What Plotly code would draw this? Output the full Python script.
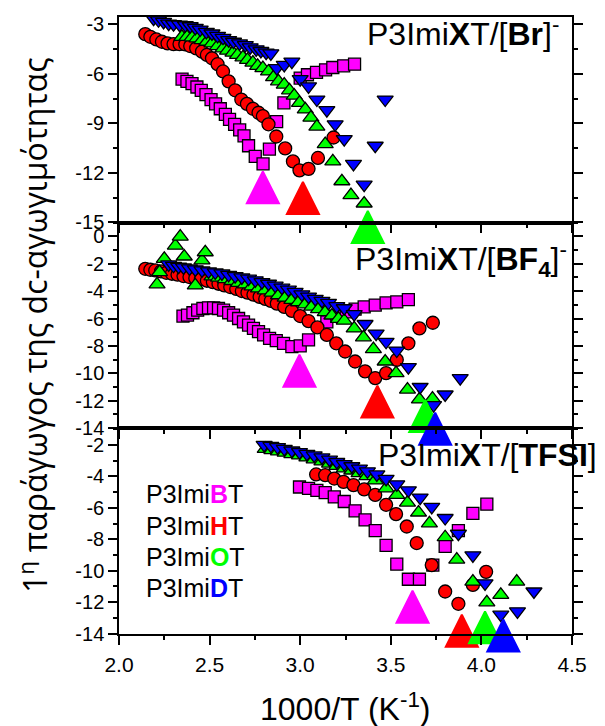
import plotly.graph_objects as go
from plotly.subplots import make_subplots

# ---------------- data: panel 1  P3ImiXT/[Br]- ----------------
br_B_x = [2.348, 2.375, 2.403, 2.43, 2.454, 2.48, 2.508, 2.533, 2.559, 2.587, 2.61, 2.638, 2.666, 2.69, 2.715, 2.752, 2.795,
          2.83, 2.87, 2.91, 3.0, 3.04, 3.09, 3.14, 3.18, 3.24, 3.30]
br_B_y = [-6.32, -6.46, -6.6, -6.8, -7.0, -7.26, -7.56, -7.82, -8.12, -8.46, -8.76, -9.06, -9.4, -9.76, -10.36, -11.0, -11.46,
          -10.56, -8.9, -7.76, -6.26, -6.06, -5.92, -5.76, -5.62, -5.52, -5.42]
br_H_x = [2.145, 2.173, 2.206, 2.237, 2.268, 2.301, 2.334, 2.366, 2.393, 2.426, 2.458, 2.485, 2.513, 2.544, 2.574, 2.605,
          2.641, 2.675, 2.706, 2.739, 2.77, 2.794, 2.825, 2.868, 2.917, 2.96, 2.996, 3.046, 3.098, 3.184]
br_H_y = [-3.6, -3.76, -3.92, -4.06, -4.16, -4.2, -4.2, -4.22, -4.32, -4.46, -4.66, -4.86, -5.06, -5.42, -5.86, -6.46,
          -7.0, -7.56, -7.82, -8.12, -8.36, -8.56, -9.06, -9.8, -10.52, -11.31, -11.85, -11.76, -11.1, -9.86]
br_O_x = [2.347, 2.375, 2.403, 2.43, 2.458, 2.485, 2.513, 2.544, 2.574, 2.599, 2.629, 2.654, 2.684, 2.709, 2.739, 2.765,
          2.794, 2.825, 2.853, 2.88, 2.912, 2.941, 2.967, 2.996, 3.028, 3.059, 3.092, 3.138, 3.18, 3.23, 3.28, 3.353]
br_O_y = [-3.76, -3.76, -3.8, -3.86, -3.96, -4.06, -4.16, -4.32, -4.46, -4.6, -4.72, -4.86, -5.0, -5.16, -5.32, -5.52,
          -5.66, -5.86, -6.2, -6.46, -6.66, -7.0, -7.32, -7.76, -8.16, -8.66, -9.2, -10.26, -11.31, -12.51, -13.35, -13.86]
br_D_x = [2.191, 2.218, 2.246, 2.274, 2.301, 2.334, 2.366, 2.393, 2.421, 2.448, 2.482, 2.513, 2.544, 2.574, 2.605, 2.632,
          2.665, 2.697, 2.724, 2.757, 2.783, 2.812, 2.838, 2.871, 2.912, 2.954, 3.0, 3.046, 3.092, 3.147, 3.193, 3.243,
          3.294, 3.353, 3.469, 3.414]
br_D_y = [-2.66, -2.76, -2.86, -2.96, -3.0, -3.02, -3.06, -3.12, -3.22, -3.32, -3.46, -3.56, -3.7, -3.82, -3.96, -4.06,
          -4.16, -4.26, -4.4, -4.52, -4.62, -4.72, -4.76, -5.66, -5.46, -5.26, -6.32, -6.76, -7.56, -8.2, -9.06, -9.96,
          -11.46, -12.72, -7.56, -10.36]
br_mark_x = [2.794, 3.015, 3.373]
br_mark_y = [-11.91, -12.56, -14.31]

# ---------------- data: panel 2  P3ImiXT/[BF4]- ----------------
bf4_B_x = [2.353, 2.378, 2.408, 2.434, 2.463, 2.494, 2.522, 2.549, 2.577, 2.605, 2.632, 2.66, 2.687, 2.715, 2.742, 2.77,
           2.798, 2.831, 2.868, 2.908, 2.954, 3.0, 3.046, 3.147, 3.202, 3.254, 3.303, 3.353, 3.414, 3.474, 3.533, 3.597]
bf4_B_y = [-5.82, -5.75, -5.58, -5.39, -5.27, -5.22, -5.22, -5.27, -5.39, -5.58, -5.75, -6.0, -6.24, -6.48, -6.72, -6.96,
           -7.2, -7.45, -7.61, -7.81, -8.05, -8.0, -7.56, -6.24, -5.82, -5.51, -5.32, -5.15, -5.02, -4.86, -4.79, -4.62]
bf4_H_x = [2.145, 2.173, 2.2, 2.232, 2.261, 2.292, 2.323, 2.356, 2.389, 2.421, 2.452, 2.485, 2.518, 2.549, 2.581, 2.614,
           2.647, 2.678, 2.709, 2.742, 2.776, 2.807, 2.838, 2.871, 2.912, 2.954, 3.0, 3.046, 3.095, 3.147, 3.199, 3.248,
           3.303, 3.358, 3.414, 3.474, 3.533, 3.597, 3.658, 3.732]
bf4_H_y = [-2.37, -2.44, -2.49, -2.56, -2.66, -2.73, -2.8, -2.9, -2.97, -3.05, -3.14, -3.24, -3.34, -3.46, -3.58, -3.7,
           -3.84, -3.99, -4.11, -4.26, -4.42, -4.57, -4.71, -4.91, -5.15, -5.44, -5.82, -6.19, -6.65, -7.2, -7.81, -8.41,
           -9.14, -9.86, -10.35, -9.99, -9.02, -7.81, -6.72, -6.31]
bf4_O_x = [2.21, 2.224, 2.25, 2.311, 2.338, 2.36, 2.421, 2.458, 2.476,
           2.513, 2.549, 2.586, 2.623, 2.66, 2.697, 2.734, 2.77, 2.807, 2.844, 2.88, 2.917, 2.954, 2.991, 3.028, 3.064,
           3.101, 3.138, 3.175, 3.211, 3.243, 3.298, 3.349, 3.404, 3.469, 3.529, 3.592, 3.658, 3.73]
bf4_O_y = [-3.5, -2.61, -1.64, -0.68, -0.02, -1.47, -3.58, -1.76, -1.16,
           -2.92, -3.02, -3.12, -3.26, -3.39, -3.5, -3.65, -3.8, -3.94, -4.11, -4.3, -4.47, -4.64, -4.81, -4.96, -5.13,
           -5.32, -5.53, -5.78, -6.02, -6.16, -6.72, -7.37, -8.24, -9.14, -9.99, -11.19, -11.91, -11.85]
bf4_D_x = [2.274, 2.301, 2.329, 2.356, 2.389, 2.421, 2.458, 2.494, 2.531, 2.568, 2.605, 2.641, 2.678, 2.715, 2.752, 2.789,
           2.825, 2.862, 2.899, 2.935, 2.972, 3.009, 3.046, 3.083, 3.12, 3.156, 3.202, 3.243, 3.298, 3.358, 3.419, 3.474,
           3.533, 3.597, 3.662, 3.736, 3.8, 3.883]
bf4_D_y = [-2.05, -2.15, -2.22, -2.27, -2.34, -2.41, -2.49, -2.56, -2.63, -2.71, -2.81, -2.9, -3.0, -3.09, -3.21, -3.34,
           -3.46, -3.6, -3.75, -3.89, -4.06, -4.23, -4.4, -4.57, -4.71, -4.86, -5.1, -5.25, -5.68, -6.4, -7.1, -7.7,
           -8.34, -9.55, -11.0, -12.33, -11.55, -10.35]
bf4_mark_x = [2.996, 3.426, 3.69, 3.745]
bf4_mark_y = [-8.65, -10.9, -11.95, -12.88]

# ---------------- data: panel 3  P3ImiXT/[TFSI] ----------------
tfsi_B_x = [2.996, 3.046, 3.092, 3.138, 3.188, 3.243, 3.303, 3.358, 3.414, 3.474, 3.533, 3.597, 3.658, 3.732, 3.8,
            3.873, 3.953, 4.03]
tfsi_B_y = [-4.68, -4.76, -4.89, -5.04, -5.31, -5.6, -6.19, -6.77, -7.45, -8.39, -9.58, -10.54, -10.54, -9.64, -8.45,
            -7.45, -6.36, -5.77]
tfsi_H_x = [3.088, 3.138, 3.188, 3.239, 3.294, 3.353, 3.414, 3.474, 3.529, 3.588, 3.643, 3.726, 3.8, 3.873, 3.953, 4.026]
tfsi_H_y = [-3.88, -3.93, -4.14, -4.35, -4.56, -4.83, -5.18, -5.81, -6.4, -7.19, -8.24, -9.64, -11.32, -12.1, -10.9, -10.07]
tfsi_O_x = [2.807, 2.844, 2.88, 2.917, 2.954, 2.996, 3.037, 3.077, 3.12, 3.162, 3.202, 3.243, 3.285, 3.325, 3.368, 3.414,
            3.474, 3.533, 3.592, 3.653, 3.713, 3.8, 3.864, 3.953, 4.03, 4.107, 4.195]
tfsi_O_y = [-2.25, -2.34, -2.42, -2.5, -2.59, -2.67, -2.8, -2.92, -3.05, -3.19, -3.34, -3.49, -3.63, -3.8, -3.99, -4.26,
            -4.76, -5.18, -5.67, -6.3, -6.99, -7.87, -9.29, -10.69, -12.01, -11.53, -10.69]
tfsi_D_x = [2.801, 2.838, 2.875, 2.912, 2.954, 2.996, 3.037, 3.077, 3.12, 3.162, 3.202, 3.243, 3.285, 3.327, 3.371, 3.423,
            3.474, 3.533, 3.597, 3.662, 3.726, 3.8, 3.873, 3.953, 4.02, 4.107, 4.199, 4.29]
tfsi_D_y = [-2.0, -2.06, -2.15, -2.25, -2.36, -2.46, -2.57, -2.67, -2.8, -2.94, -3.09, -3.22, -3.36, -3.51, -3.68, -3.88,
            -4.16, -4.51, -4.89, -5.35, -5.94, -6.65, -7.65, -9.02, -10.8, -12.79, -12.58, -11.32]
tfsi_mark_x = [3.62, 3.892, 4.02, 4.121]
tfsi_mark_y = [-11.27, -12.79, -12.58, -13.1]

# axes ticks
x_ticks = [2.0, 2.5, 3.0, 3.5, 4.0, 4.5]
y1_ticks = [-15, -12, -9, -6, -3]
y2_ticks = [0, -2, -4, -6, -8, -10, -12, -14]
y3_ticks = [-2, -4, -6, -8, -10, -12, -14]

series_names = ["P3ImiBT", "P3ImiHT", "P3ImiOT", "P3ImiDT"]

# ---------------- styles ----------------
MAG, RED, GRN, BLU = "#FF00FF", "#FF0000", "#00FF00", "#0000FF"
colors = [MAG, RED, GRN, BLU]
symbols = ["square", "circle", "triangle-up", "triangle-down"]
sizes = [12, 13, 14, 14]
FONT = "Liberation Sans, Arial, sans-serif"

fig = make_subplots(rows=3, cols=1, shared_xaxes=True, vertical_spacing=0)

panels = [
    (1, [(br_B_x, br_B_y), (br_H_x, br_H_y), (br_O_x, br_O_y), (br_D_x, br_D_y)], br_mark_x, br_mark_y),
    (2, [(bf4_B_x, bf4_B_y), (bf4_H_x, bf4_H_y), (bf4_O_x, bf4_O_y), (bf4_D_x, bf4_D_y)], bf4_mark_x, bf4_mark_y),
    (3, [(tfsi_B_x, tfsi_B_y), (tfsi_H_x, tfsi_H_y), (tfsi_O_x, tfsi_O_y), (tfsi_D_x, tfsi_D_y)], tfsi_mark_x, tfsi_mark_y),
]

for row, series, mx, my in panels:
    for i, (xs, ys) in enumerate(series):
        fig.add_trace(go.Scatter(
            x=xs, y=ys, mode="markers", name=series_names[i], showlegend=False,
            marker=dict(symbol=symbols[i], size=sizes[i], color=colors[i],
                        line=dict(color="black", width=1.3))),
            row=row, col=1)
    fig.add_trace(go.Scatter(
        x=mx, y=my, mode="markers", showlegend=False, cliponaxis=False,
        marker=dict(symbol="arrow-up", size=32, color=colors[:len(mx)],
                    line=dict(color=colors[:len(mx)], width=2))),
        row=row, col=1)

axis_common = dict(showline=True, linecolor="black", linewidth=1.5, mirror=True,
                   showgrid=False, zeroline=False, ticks="outside", tickcolor="black",
                   tickwidth=1.5, ticklen=9)

for r in (1, 2, 3):
    fig.update_xaxes(range=[2.0, 4.5], tickmode="array", tickvals=x_ticks,
                     ticktext=[f"{v:.1f}" for v in x_ticks],
                     minor=dict(ticks="outside", ticklen=4, tickwidth=1.5, tickcolor="black",
                                tickmode="linear", tick0=2.0, dtick=0.25),
                     tickfont=dict(family=FONT, size=21, color="black"),
                     showticklabels=(r == 3), ticklabelstandoff=2, row=r, col=1, **axis_common)

yspecs = [(1, [-15.02, -2.56], y1_ticks, 1.5), (2, [-14.02, 1.0], y2_ticks, 1.0), (3, [-14.02, -0.95], y3_ticks, 1.0)]
for r, rng, tv, mdt in yspecs:
    ax = dict(axis_common)
    ax["mirror"] = "allticks"
    fig.update_yaxes(range=rng, tickmode="array", tickvals=tv, ticktext=[str(v) for v in tv],
                     minor=dict(ticks="outside", ticklen=4, tickwidth=1.5, tickcolor="black",
                                tickmode="linear", tick0=0, dtick=mdt),
                     tickfont=dict(family=FONT, size=20, color="black"),
                     ticklabelstandoff=0, row=r, col=1, **ax)

annotations = []
titles = [
    ("P3Imi<b>X</b>T/[<b>Br</b>]<sup>-</sup>", 0.76, 0.976),
    ("P3Imi<b>X</b>T/[<b>BF<sub>4</sub></b>]<sup>-</sup>", 0.756, 0.6063),
    ("P3Imi<b>X</b>T/[<b>TFSI</b>]", 0.813, 0.29),
]
for txt, x, y in titles:
    annotations.append(dict(text=txt, x=x, y=y, xref="paper", yref="paper", xanchor="center",
                            yanchor="middle", showarrow=False,
                            font=dict(family=FONT, size=32, color="black")))

legend_y = [0.227, 0.1755, 0.124, 0.074]
for name, c, y in zip(series_names, colors, legend_y):
    letter = name[5]
    txt = f"{name[:5]}<b><span style='color:{c}'>{letter}</span></b>{name[6:]}"
    annotations.append(dict(text=txt, x=0.055, y=y, xref="paper", yref="paper", xanchor="left",
                            yanchor="middle", showarrow=False,
                            font=dict(family=FONT, size=25, color="black")))

annotations.append(dict(text="1000/T (K<sup>-1</sup>)", x=0.5, y=-0.1176, xref="paper", yref="paper",
                        xanchor="center", yanchor="middle", showarrow=False,
                        font=dict(family=FONT, size=32, color="black")))
annotations.append(dict(text="1<sup>η</sup> παράγωγος της dc-αγωγιμότητας", x=-0.19, y=0.5008,
                        xref="paper", yref="paper", xanchor="center", yanchor="middle",
                        textangle=-90, showarrow=False,
                        font=dict(family="Open Sans, Noto Sans, sans-serif", size=32, color="black")))

# the page body adds an 8 px offset, so the figure is 8 px smaller and shifted accordingly
fig.update_layout(width=597, height=718, margin=dict(l=111, r=33, t=5, b=92),
                  plot_bgcolor="white", paper_bgcolor="white", annotations=annotations,
                  showlegend=False)

fig.write_html("out.html")
